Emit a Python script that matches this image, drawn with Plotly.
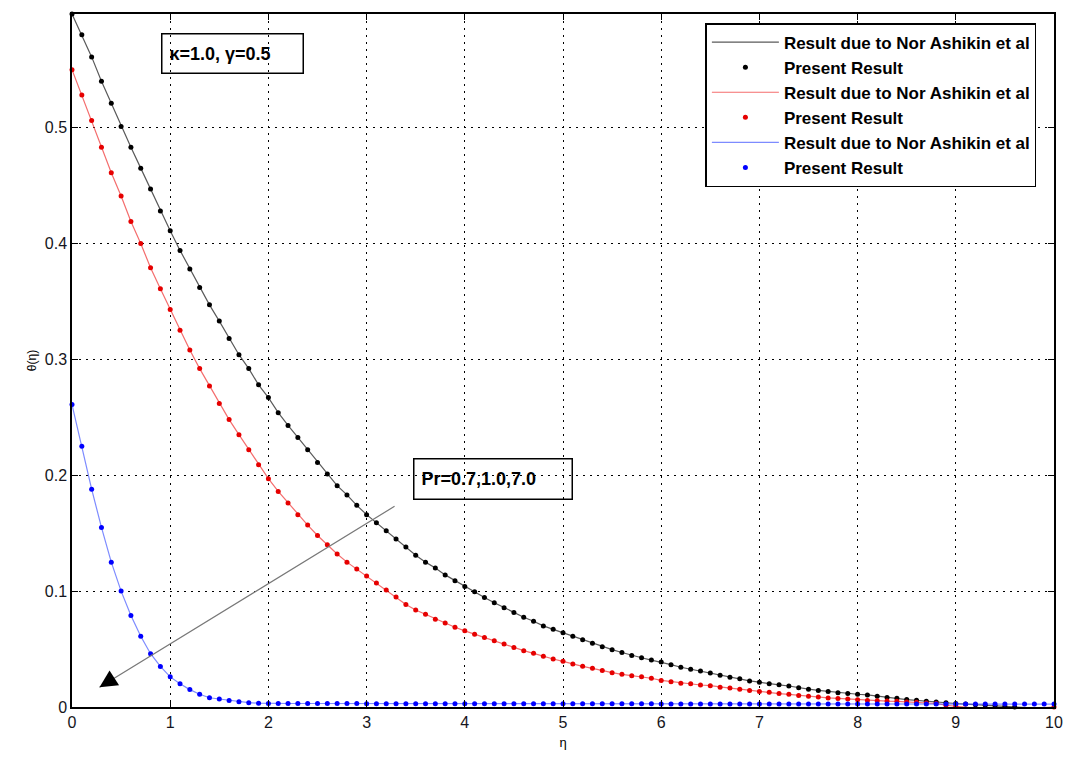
import plotly.graph_objects as go

eta = [round(i * 0.1, 1) for i in range(101)]

theta_pr07 = [
    0.598, 0.580, 0.561, 0.540, 0.521, 0.501, 0.483, 0.465, 0.447, 0.428,
    0.411, 0.394, 0.378, 0.362, 0.347, 0.333, 0.318, 0.304, 0.292, 0.278,
    0.267, 0.254, 0.243, 0.2325, 0.222, 0.211, 0.201, 0.191, 0.183, 0.174,
    0.166, 0.159, 0.152, 0.145, 0.138, 0.131, 0.125, 0.120, 0.114, 0.109,
    0.104, 0.0994, 0.0945, 0.090, 0.0857, 0.0815, 0.0775, 0.074, 0.070, 0.067,
    0.064, 0.061, 0.058, 0.055, 0.052, 0.0495, 0.047, 0.0445, 0.0425, 0.0405,
    0.0388, 0.0365, 0.0343, 0.0326, 0.031, 0.0294, 0.0273, 0.0257, 0.0243, 0.0225,
    0.0214, 0.020, 0.0191, 0.0181, 0.0166, 0.0154, 0.0143, 0.0134, 0.0123, 0.0116,
    0.0110, 0.0104, 0.0093, 0.0082, 0.0076, 0.0064, 0.0058, 0.005, 0.0043, 0.0037,
    0.003, 0.0025, 0.002, 0.0015, 0.001, 0.0005, 0.0, -0.0005, -0.0012, -0.0014,
    -0.001,
]

theta_pr10 = [
    0.550, 0.528, 0.506, 0.483, 0.461, 0.441, 0.419, 0.400, 0.379, 0.361,
    0.343, 0.325, 0.308, 0.292, 0.277, 0.262, 0.248, 0.235, 0.222, 0.209,
    0.197, 0.186, 0.176, 0.166, 0.157, 0.148, 0.140, 0.132, 0.125, 0.119,
    0.113, 0.107, 0.101, 0.095, 0.0885, 0.0837, 0.080, 0.0757, 0.0725, 0.0688,
    0.0657, 0.0628, 0.060, 0.0571, 0.0543, 0.0514, 0.0486, 0.0463, 0.0437, 0.0414,
    0.0394, 0.0371, 0.0351, 0.0334, 0.0314, 0.0296, 0.0282, 0.027, 0.026, 0.0248,
    0.0229, 0.0218, 0.0206, 0.020, 0.019, 0.0184, 0.0171, 0.0163, 0.0154, 0.0143,
    0.0134, 0.0127, 0.0116, 0.0109, 0.010, 0.0092, 0.0086, 0.0078, 0.0074, 0.0069,
    0.0063, 0.0057, 0.0055, 0.0051, 0.0049, 0.0043, 0.004, 0.0035, 0.003, 0.0015,
    0.0005, -0.0003, -0.001, -0.0012, -0.0014, -0.0015, -0.0015, -0.0014, -0.001, -0.0005,
    0.0,
]

theta_pr70 = [
    0.261, 0.225, 0.188, 0.155, 0.125, 0.100, 0.079, 0.061, 0.046, 0.035,
    0.026, 0.020, 0.015, 0.011, 0.008, 0.0069, 0.0057, 0.0045, 0.0037, 0.0033,
    0.0030, 0.0030, 0.0030, 0.0030, 0.0030, 0.0030, 0.0030, 0.0030, 0.0030, 0.0030,
    0.0029, 0.0029, 0.0029, 0.0029, 0.0029, 0.0029, 0.0029, 0.0029, 0.0029, 0.0029,
    0.0028, 0.0028, 0.0028, 0.0028, 0.0028, 0.0028, 0.0028, 0.0028, 0.0028, 0.0028,
    0.0027, 0.0027, 0.0027, 0.0027, 0.0027, 0.0027, 0.0027, 0.0027, 0.0027, 0.0027,
    0.0026, 0.0026, 0.0026, 0.0026, 0.0026, 0.0026, 0.0026, 0.0026, 0.0026, 0.0026,
    0.0026, 0.0026, 0.0026, 0.0026, 0.0026, 0.0026, 0.0026, 0.0026, 0.0026, 0.0026,
    0.0025, 0.0025, 0.0025, 0.0025, 0.0025, 0.0025, 0.0025, 0.0025, 0.0025, 0.0025,
    0.0025, 0.0025, 0.0025, 0.0025, 0.0025, 0.0025, 0.0025, 0.0025, 0.0025, 0.0025,
    0.0025,
]

x_ticks = [0, 1, 2, 3, 4, 5, 6, 7, 8, 9, 10]
y_ticks = [0, 0.1, 0.2, 0.3, 0.4, 0.5]
y_tick_text = ["0", "0.1", "0.2", "0.3", "0.4", "0.5"]

series = [
    (theta_pr07, "rgba(0,0,0,0.65)", "black"),
    (theta_pr10, "rgba(240,60,60,0.75)", "rgb(230,0,0)"),
    (theta_pr70, "rgba(70,90,255,0.7)", "rgb(0,0,255)"),
]

FONT = "Liberation Sans, Arial, sans-serif"

fig = go.Figure()
for ys, lcol, mcol in series:
    fig.add_trace(go.Scatter(
        x=eta, y=ys, mode="lines", name="Result due to Nor Ashikin et al",
        line=dict(color=lcol, width=1.2), cliponaxis=False,
    ))
    fig.add_trace(go.Scatter(
        x=eta, y=ys, mode="markers", name="Present Result",
        marker=dict(color=mcol, size=5), cliponaxis=False,
    ))

fig.add_annotation(
    x=1.635, y=0.5635, xref="x", yref="y", text="<b>κ=1.0, γ=0.5</b>",
    showarrow=False, font=dict(family=FONT, size=18, color="black"),
    width=126, height=24, align="left", valign="middle",
    bordercolor="black", borderwidth=1.5, borderpad=7,
)
fig.add_annotation(
    x=4.29, y=0.197, xref="x", yref="y", text="<b>Pr=0.7,1.0,7.0</b>",
    showarrow=False, font=dict(family=FONT, size=18, color="black"),
    width=143, height=25, align="left", valign="middle",
    bordercolor="black", borderwidth=1.5, borderpad=7,
)
# arrow shaft (gray)
fig.add_annotation(
    x=0.28, y=0.017, ax=3.30, ay=0.174, xref="x", yref="y", axref="x", ayref="y",
    text="", showarrow=True, arrowhead=0, arrowwidth=1.2,
    arrowcolor="rgb(120,120,120)",
)
# arrow head (black)
fig.add_annotation(
    x=0.28, y=0.017, ax=14, ay=-9, xref="x", yref="y",
    text="", showarrow=True, arrowhead=2, arrowsize=2.2, arrowwidth=1.6,
    arrowcolor="black",
)

axis_common = dict(
    showline=True, linecolor="black", linewidth=1.5, mirror="ticks",
    ticks="inside", ticklen=6, tickcolor="black",
    showgrid=True, gridcolor="black", gridwidth=1, griddash="2px,5px",
    zeroline=False, tickfont=dict(family=FONT, size=16, color="#151520"),
)

fig.update_layout(
    width=1075, height=760,
    margin=dict(l=72, r=16, t=13, b=50),
    paper_bgcolor="white", plot_bgcolor="white",
    font=dict(family=FONT, color="black"),
    xaxis=dict(range=[0, 10], tickvals=x_ticks,
               title=dict(text="η", font=dict(family=FONT, size=13), standoff=8),
               **axis_common),
    yaxis=dict(range=[0, 0.598], tickvals=y_ticks, ticktext=y_tick_text,
               title=dict(text="θ(η)", font=dict(family=FONT, size=12), standoff=6),
               **axis_common),
    legend=dict(
        x=0.645, y=0.987, xanchor="left", yanchor="top",
        bgcolor="white", bordercolor="black", borderwidth=1.5,
        font=dict(family=FONT, size=17, color="black", weight="bold"),
        tracegroupgap=0, itemwidth=67,
    ),
)

fig.write_html("out.html")
